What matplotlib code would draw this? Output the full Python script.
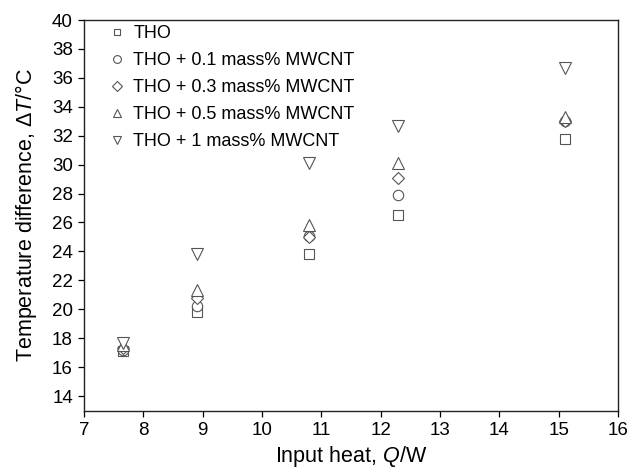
import matplotlib.pyplot as plt
import numpy as np

plt.rcParams['font.family'] = ['Liberation Sans', 'DejaVu Sans']
plt.rcParams['mathtext.fontset'] = 'custom'
plt.rcParams['mathtext.it'] = 'Liberation Sans:italic'
plt.rcParams['mathtext.rm'] = 'Liberation Sans'

# input heat, W
heat = [7.65, 8.9, 10.8, 12.3, 15.1]

# temperature difference, degC
tho = [17.1, 19.8, 23.8, 26.5, 31.8]
tho_01 = [17.2, 20.2, 25.1, 27.9, 33.0]
tho_03 = [17.3, 20.8, 25.0, 29.1, 33.0]
tho_05 = [17.5, 21.3, 25.8, 30.1, 33.3]
tho_1 = [17.7, 23.8, 30.1, 32.7, 36.7]

labels = ["THO", "THO + 0.1 mass% MWCNT", "THO + 0.3 mass% MWCNT",
          "THO + 0.5 mass% MWCNT", "THO + 1 mass% MWCNT"]
markers = ['s', 'o', 'D', '^', 'v']
sizes = [6.5, 7.5, 6.5, 8.5, 8.5]

fig = plt.figure(figsize=(6.28, 4.73), dpi=100)
ax = fig.add_axes([0.1338, 0.1321, 0.8502, 0.8256])

for ys, lab, m, ms in zip([tho, tho_01, tho_03, tho_05, tho_1], labels, markers, sizes):
    ax.plot(heat, ys, linestyle='none', marker=m, markersize=ms,
            markerfacecolor='white', markeredgecolor='#555555', markeredgewidth=0.8,
            label=lab)

ax.set_xlim(7, 16)
ax.set_ylim(13, 40)
ax.set_xticks(np.arange(7, 17, 1))
ax.set_yticks(np.arange(14, 41, 2))
for s in ax.spines.values():
    s.set_linewidth(1.0)
    s.set_color('#222222')
ax.tick_params(direction='out', length=4, width=0.9, labelsize=13.5, pad=4)

ax.set_xlabel("Input heat, $\\it{Q}$/W", fontsize=15.5, labelpad=4)
ax.set_ylabel("Temperature difference, Δ$\\it{T}$/°C", fontsize=15.5, labelpad=9)

ax.legend(loc='upper left', bbox_to_anchor=(0.035, 1.0), frameon=False, fontsize=13,
          handletextpad=0.4, borderaxespad=0, borderpad=0.3, labelspacing=0.55,
          handlelength=1.0, markerscale=0.75)

fig.savefig("out.png", dpi=100)
